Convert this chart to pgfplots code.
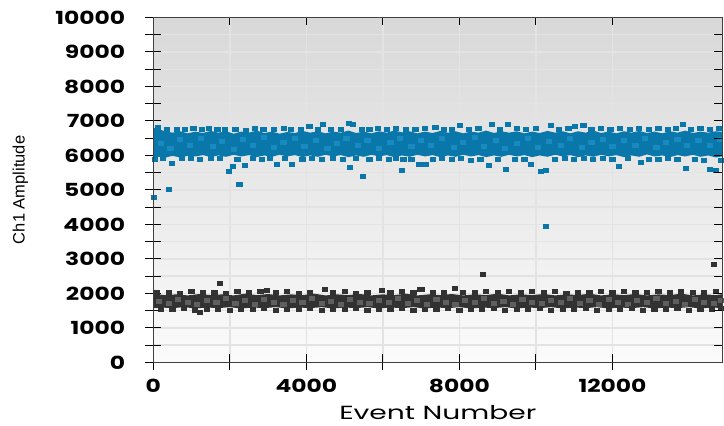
\documentclass[border=0pt]{standalone}
\usepackage{pgfplots}
\pgfplotsset{compat=1.18}
\usepackage{fontspec}
\setmainfont{Liberation Sans}
\newfontfamily\tickfont{Poppins}[FakeStretch=1.3]
\newfontfamily\labfont{Poppins}[FakeStretch=1.48]
\definecolor{dropblue}{RGB}{9,119,170}
\definecolor{dropblueL}{RGB}{24,138,192}
\definecolor{dropgrey}{RGB}{50,50,50}
\definecolor{dropgreyL}{RGB}{95,95,95}
\definecolor{gridc}{RGB}{227,227,227}
\definecolor{bgtop}{RGB}{216,216,216}
\definecolor{bgbot}{RGB}{251,251,251}
\begin{document}
\begin{tikzpicture}
\pgfplotsset{
  droplet/.style={only marks, color=#1, mark=square*, mark size=2pt, mark options={xscale=1.3, draw=#1, fill=#1, line width=0pt}},
}
\begin{axis}[
  scale only axis, width=569pt, height=344.8pt,
  xmin=0, xmax=14870, ymin=0, ymax=10000,
  scaled ticks=false,
  axis background/.style={top color=bgtop, bottom color=bgbot},
  xtick={0,4000,8000,12000}, minor x tick num=1,
  ytick={0,1000,...,10000}, minor y tick num=1,
  xtick pos=left, ytick pos=left,
  tick align=center, major tick length=16pt, minor tick length=16pt,
  tick style={black, line width=1pt},
  grid=both, major grid style={gridc, line width=1.4pt}, minor grid style={gridc, line width=1.4pt},
  axis line style={line width=1pt, black},
  /pgf/number format/1000 sep={},
  /pgf/number format/assume math mode=true,
  ticklabel style={font=\tickfont\bfseries\fontsize{18}{18}\selectfont},
  yticklabel style={anchor=east, inner sep=0pt, xshift=-20pt},
  xticklabel style={anchor=base, inner sep=0pt, yshift=-22pt},
  xlabel={Event Number}, ylabel={Ch1 Amplitude},
  every axis x label/.style={at={(axis description cs:0.5,0)}, anchor=base, inner sep=0pt, yshift=-57pt, font=\labfont\fontsize{19}{19}\selectfont},
  every axis y label/.style={at={(axis description cs:-0.2338,0.5)}, rotate=90, anchor=center, font=\fontsize{16.5}{16.5}\selectfont},
  clip=true,
]
% blue band body
\addplot[fill=dropblue, draw=none] coordinates {
(0,6800)(150,6760)(300,6700)(500,6660)(700,6700)(900,6640)(1100,6690)(1300,6650)(1500,6710)(1700,6660)(1900,6700)(2100,6630)(2300,6690)(2500,6660)(2700,6720)(2900,6650)(3100,6690)(3300,6630)(3500,6680)(3700,6650)(3900,6710)(4100,6660)(4300,6700)(4500,6640)(4700,6690)(4900,6660)(5100,6720)(5300,6650)(5500,6690)(5700,6640)(5900,6700)(6100,6660)(6300,6720)(6500,6670)(6700,6700)(6900,6640)(7100,6690)(7300,6650)(7500,6710)(7700,6660)(7900,6700)(8100,6640)(8300,6690)(8500,6660)(8700,6720)(8900,6650)(9100,6700)(9300,6660)(9500,6700)(9700,6640)(9900,6690)(10100,6650)(10300,6710)(10500,6660)(10700,6700)(10900,6640)(11100,6700)(11300,6660)(11500,6720)(11700,6650)(11900,6690)(12100,6640)(12300,6700)(12500,6660)(12700,6710)(12900,6650)(13100,6690)(13300,6640)(13500,6700)(13700,6660)(13900,6720)(14100,6650)(14300,6690)(14500,6660)(14700,6700)(14900,6680)
(14900,5980)(14700,5940)(14500,6000)(14300,5960)(14100,6020)(13900,5970)(13700,6010)(13500,5950)(13300,6000)(13100,5970)(12900,6030)(12700,5960)(12500,6000)(12300,5950)(12100,6010)(11900,5970)(11700,6020)(11500,5960)(11300,6000)(11100,5950)(10900,6010)(10700,5970)(10500,6020)(10300,5960)(10100,6000)(9900,5950)(9700,6010)(9500,5970)(9300,6020)(9100,5960)(8900,6000)(8700,5950)(8500,6010)(8300,5970)(8100,6020)(7900,5960)(7700,6000)(7500,5950)(7300,6010)(7100,5970)(6900,6020)(6700,5960)(6500,6000)(6300,5950)(6100,6010)(5900,5970)(5700,6020)(5500,5960)(5300,6000)(5100,5950)(4900,6010)(4700,5970)(4500,6020)(4300,5960)(4100,6000)(3900,5950)(3700,6010)(3500,5970)(3300,6020)(3100,5960)(2900,6000)(2700,5950)(2500,6010)(2300,5970)(2100,6020)(1900,5960)(1700,6000)(1500,5950)(1300,6010)(1100,5970)(900,5990)(700,5940)(500,5990)(300,5930)(150,5960)(0,5920)
} -- cycle;
% lighter blue mottles
\addplot[droplet=dropblueL] coordinates {
(200,6350)(450,6200)(700,6450)(950,6300)(1250,6500)(1550,6250)(1800,6400)(2100,6180)(2350,6450)(2600,6300)(2900,6520)(3150,6220)(3400,6380)(3700,6480)(3950,6260)(4250,6420)(4550,6200)(4800,6350)(5050,6500)(5350,6280)(5600,6430)(5900,6200)(6200,6380)(6450,6500)(6750,6250)(7000,6420)(7250,6300)(7550,6480)(7850,6220)(8100,6380)(8400,6520)(8650,6260)(8950,6420)(9200,6200)(9500,6350)(9800,6480)(10050,6240)(10350,6400)(10650,6300)(10900,6500)(11200,6220)(11450,6380)(11750,6460)(12000,6260)(12300,6420)(12600,6300)(12850,6500)(13150,6220)(13400,6380)(13700,6460)(13950,6280)(14250,6420)(14550,6300)(14800,6450)
};
% blue droplets at the fringes and outliers
\addplot[droplet=dropblue] coordinates {
(120,6800)(350,6750)(620,6760)(820,6740)(1050,6780)(1280,6740)(1450,6770)(1680,6760)(1880,6740)(2150,6760)(2420,6730)(2650,6790)(2880,6750)(3150,6740)(3420,6770)(3600,6750)(3850,6760)(4084,6830)(4300,6750)(4435,6888)(4650,6760)(4900,6740)(5105,6929)(5228,6888)(5450,6760)(5650,6750)(5880,6780)(6100,6750)(6350,6790)(6600,6760)(6850,6740)(7100,6770)(7375,6813)(7600,6760)(7800,6740)(8011,6859)(8250,6760)(8500,6780)(8859,6888)(9050,6750)(9278,6888)(9500,6780)(9750,6760)(10000,6770)(10386,6880)(10600,6760)(10850,6780)(11014,6830)(11242,6880)(11450,6760)(11700,6790)(11950,6760)(12200,6780)(12450,6750)(12700,6790)(12950,6760)(13200,6780)(13450,6750)(13650,6770)(13833,6888)(14050,6760)(14300,6790)(14550,6760)(14780,6780)
(50,5880)(260,5900)(497,5778)(750,5900)(980,5920)(1220,5890)(1500,5900)(1750,5910)(1982,5537)(2078,5682)(2251,5149)(2401,5699)(2200,5880)(2600,5900)(2850,5890)(3050,5910)(3230,5740)(3450,5900)(3623,5740)(3900,5880)(4150,5910)(4400,5890)(4700,5900)(4950,5880)(5150,5653)(5472,5392)(5300,5900)(5650,5890)(5900,5910)(6150,5880)(6350,5900)(6503,5575)(6538,5893)(6750,5880)(6938,5740)(7113,5749)(7300,5890)(7550,5900)(7800,5880)(8050,5910)(8300,5860)(8550,5890)(8770,5699)(9000,5880)(9208,5604)(9450,5890)(9700,5880)(9862,5749)(10124,5526)(10255,5575)(10500,5890)(10750,5900)(11000,5880)(11250,5900)(11500,5870)(11750,5900)(12000,5890)(12174,5671)(12400,5900)(12741,5798)(12950,5890)(13200,5880)(13450,5900)(13700,5870)(13920,5633)(14150,5880)(14400,5860)(14556,5604)(14705,5555)(14850,5850)
(26,4772)(411,5025)(10255,3943)
};
% grey band body
\addplot[fill=dropgrey, draw=none] coordinates {
(0,1980)(300,1950)(600,1970)(900,1940)(1200,1980)(1500,1950)(1800,1970)(2100,1940)(2400,1990)(2700,1950)(3000,1980)(3300,1940)(3600,1970)(3900,1950)(4200,1990)(4500,1940)(4800,1970)(5100,1950)(5400,1980)(5700,1940)(6000,1970)(6300,1950)(6600,1990)(6900,1940)(7200,1970)(7500,1950)(7800,1980)(8100,1940)(8400,1970)(8700,1950)(9000,1990)(9300,1940)(9600,1970)(9900,1950)(10200,1980)(10500,1940)(10800,1970)(11100,1950)(11400,1990)(11700,1940)(12000,1970)(12300,1950)(12600,1980)(12900,1940)(13200,1970)(13500,1950)(13800,1990)(14100,1940)(14400,1970)(14700,1950)(14900,1980)
(14900,1570)(14600,1590)(14300,1560)(14000,1600)(13700,1570)(13400,1590)(13100,1560)(12800,1600)(12500,1570)(12200,1590)(11900,1560)(11600,1600)(11300,1570)(11000,1590)(10700,1560)(10400,1600)(10100,1570)(9800,1590)(9500,1560)(9200,1600)(8900,1570)(8600,1590)(8300,1560)(8000,1600)(7700,1570)(7400,1590)(7100,1560)(6800,1600)(6500,1570)(6200,1590)(5900,1560)(5600,1600)(5300,1570)(5000,1590)(4700,1560)(4400,1600)(4100,1570)(3800,1590)(3500,1560)(3200,1600)(2900,1570)(2600,1590)(2300,1560)(2000,1600)(1700,1570)(1400,1590)(1100,1560)(800,1600)(500,1570)(200,1590)(0,1570)
} -- cycle;
% lighter grey mottles
\addplot[droplet=dropgreyL] coordinates {
(150,1760)(400,1700)(650,1820)(900,1740)(1150,1680)(1400,1800)(1650,1720)(1900,1840)(2150,1700)(2400,1780)(2650,1680)(2900,1820)(3150,1740)(3400,1690)(3650,1800)(3900,1720)(4150,1840)(4400,1700)(4650,1770)(4900,1680)(5150,1820)(5400,1740)(5650,1700)(5900,1800)(6150,1720)(6400,1840)(6650,1700)(6900,1780)(7150,1680)(7400,1820)(7650,1740)(7900,1690)(8150,1800)(8400,1720)(8650,1840)(8900,1700)(9150,1770)(9400,1680)(9650,1820)(9900,1740)(10150,1700)(10400,1800)(10650,1720)(10900,1840)(11150,1700)(11400,1780)(11650,1680)(11900,1820)(12150,1740)(12400,1690)(12650,1800)(12900,1720)(13150,1840)(13400,1700)(13650,1770)(13900,1680)(14150,1820)(14400,1740)(14650,1700)(14850,1800)
};
% grey droplets at the fringes and outliers
\addplot[droplet=dropgrey] coordinates {
(100,2010)(400,2030)(700,2000)(1000,2040)(1300,2010)(1600,2030)(1900,2000)(2200,2040)(2500,2020)(2800,2050)(2969,2096)(3200,2010)(3500,2040)(3800,2000)(4100,2030)(4495,2105)(4700,2020)(5000,2040)(5300,2000)(5600,2030)(5980,2076)(6200,2020)(6500,2040)(6800,2010)(6982,2125)(7026,2125)(7300,2030)(7600,2010)(7880,2150)(8100,2030)(8400,2010)(8700,2040)(9000,2020)(9300,2040)(9600,2010)(9900,2050)(10200,2020)(10500,2040)(10800,2000)(11100,2030)(11400,2010)(11700,2050)(12000,2020)(12300,2040)(12600,2010)(12900,2030)(13200,2050)(13500,2010)(13800,2040)(14100,2020)(14400,2030)(14700,2050)
(200,1540)(500,1520)(800,1550)(1100,1500)(1222,1440)(1400,1530)(1700,1540)(2000,1510)(2300,1540)(2600,1520)(2900,1550)(3200,1510)(3500,1540)(3800,1520)(4100,1550)(4400,1510)(4700,1540)(5000,1520)(5300,1550)(5600,1510)(5900,1540)(6200,1520)(6500,1550)(6800,1510)(7100,1540)(7400,1520)(7700,1550)(8000,1510)(8300,1540)(8600,1520)(8900,1550)(9200,1510)(9500,1540)(9800,1520)(10100,1550)(10400,1510)(10700,1540)(11000,1520)(11300,1550)(11600,1510)(11900,1540)(12200,1520)(12500,1550)(12800,1510)(13100,1540)(13400,1520)(13700,1550)(14000,1510)(14300,1540)(14600,1520)(14850,1550)
(1746,2290)(8624,2560)(14661,2841)
};
\end{axis}
\begin{axis}[
  scale only axis, width=569pt, height=344.8pt,
  xmin=0, xmax=14870, ymin=0, ymax=10000,
  scaled ticks=false,
  xtick={0,4000,8000,12000}, minor x tick num=1,
  ytick={0,1000,...,10000}, minor y tick num=1,
  xtick pos=right, ytick pos=right,
  tick align=inside, major tick length=8pt, minor tick length=8pt,
  tick style={black, line width=1pt},
  xticklabels={}, yticklabels={},
  axis line style={line width=1pt, black!75},
]
\end{axis}
\pgfresetboundingbox
\path (current axis.south west) ++(-153.3pt,-62.7pt) rectangle ([shift={(1.7pt,17.5pt)}]current axis.north east);
\end{tikzpicture}
\end{document}
